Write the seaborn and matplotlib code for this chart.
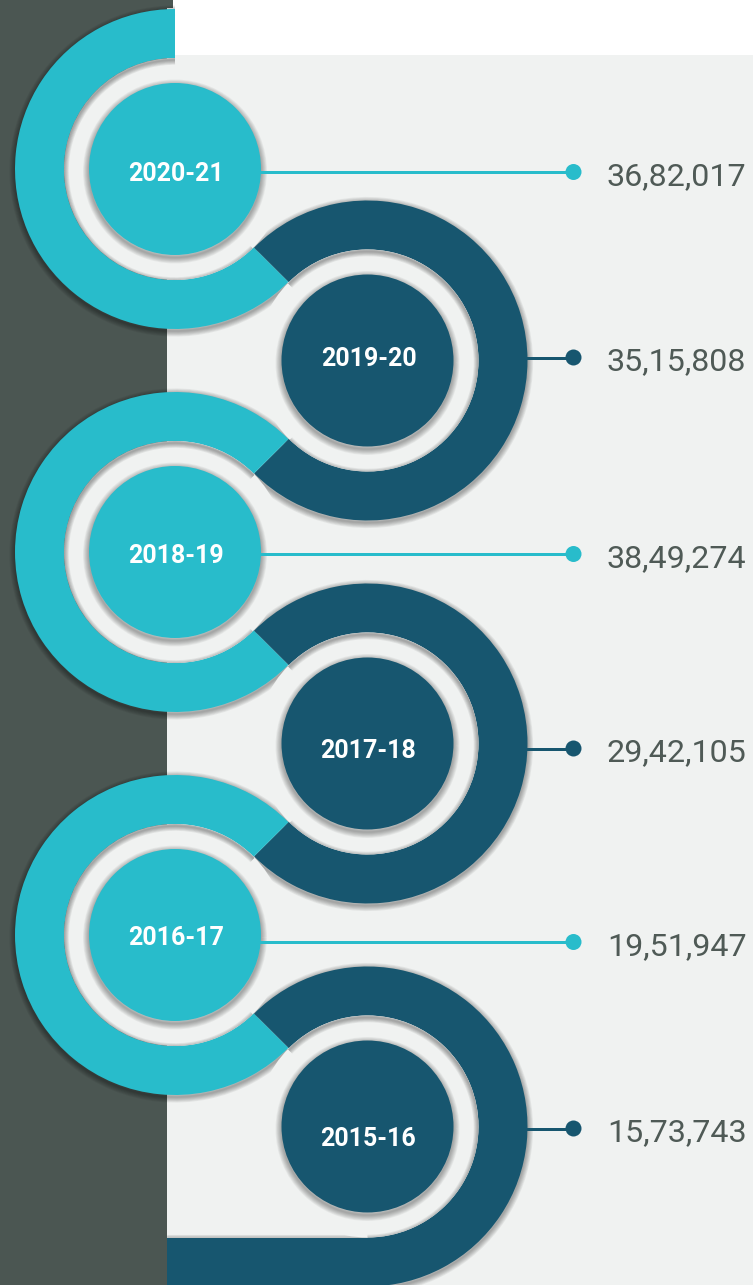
import math
import numpy as np
import pandas as pd
import matplotlib
matplotlib.use("Agg")
import matplotlib.pyplot as plt
from matplotlib.patches import Wedge, Circle, Rectangle, Arc
import seaborn as sns

# ---------------- data ----------------
years = ["2020-21", "2019-20", "2018-19", "2017-18", "2016-17", "2015-16"]
values = [3682017, 3515808, 3849274, 2942105, 1951947, 1573743]
kinds = ["cyan", "dark", "cyan", "dark", "cyan", "dark"]

# ---------------- style / layout ----------------
W, H = 753, 1285
CYAN = "#28bccb"
DARK = "#17566f"
PANEL = "#4b5652"
LIGHT = "#f0f2f1"
TEXT = "#4f5a56"
palette = {"cyan": CYAN, "dark": DARK}

CX_LEFT, CX_RIGHT = 175.0, 367.5
C0, STEP = 169.0, 191.5
R_OUT, R_IN, R_CORE = 160.0, 111.0, 86.0
PANEL_X = 167.0
DOT_X = 573.5
VALUE_X = 607
line_dy = [3, -3, 2, 5, 7, 2]
year_dy = [3, -3, 2, 5, 1, 10]
PX = 0.72  # points per pixel at dpi 100


def indian(n):
    s = str(n)
    last3, rest = s[-3:], s[:-3]
    parts = []
    while len(rest) > 2:
        parts.insert(0, rest[-2:])
        rest = rest[:-2]
    if rest:
        parts.insert(0, rest)
    return ",".join(parts + [last3])


sns.set_theme(style="white")
plt.rcParams["font.family"] = ["Roboto", "DejaVu Sans"]

fig = plt.figure(figsize=(W / 100, H / 100), dpi=100)
ax = fig.add_axes([0, 0, 1, 1])
ax.set_xlim(0, W)
ax.set_ylim(0, H)
ax.set_axis_off()

# backgrounds
ax.add_patch(Rectangle((0, 0), W, H, facecolor=LIGHT, edgecolor="none", zorder=0))
ax.add_patch(Rectangle((PANEL_X, H - 55), W - PANEL_X, 55, facecolor="white", edgecolor="none", zorder=0.1))
ax.add_patch(Rectangle((0, 0), PANEL_X, H, facecolor=PANEL, edgecolor="none", zorder=0.2))
ax.add_patch(Rectangle((PANEL_X - 1, H - 8), 7, 8, facecolor=PANEL, edgecolor="none", zorder=0.2))

ANG = math.degrees(math.atan2(STEP, CX_RIGHT - CX_LEFT))


def shadow_arc(cx, cy, r, t1, t2, z, clip=None, off=2.0, n=7, alpha=0.05, grow=1.6):
    for k in range(n):
        a = Arc((cx, cy - off), 2 * r, 2 * r, theta1=t1, theta2=t2,
                lw=(k + 1) * grow * PX, color="black", alpha=alpha, zorder=z,
                capstyle="butt")
        ax.add_patch(a)
        if clip is not None:
            a.set_clip_path(clip)


rows = []
for i, (yr, val, kind) in enumerate(zip(years, values, kinds)):
    dark = kind == "dark"
    cx = CX_RIGHT if dark else CX_LEFT
    cy = H - (C0 + i * STEP)
    if dark:
        t1 = -90.0 if i == len(years) - 1 else ANG - 180
        t2 = 180 - ANG
    else:
        t1 = 90.0 if i == 0 else ANG
        t2 = 360 - ANG
    col = palette[kind]

    # outer shadow + ring
    shadow_arc(cx, cy, R_OUT, t1, t2, z=1)
    ax.add_patch(Wedge((cx, cy), R_OUT, t1, t2, width=R_OUT - R_IN,
                       facecolor=col, edgecolor="none", zorder=2))
    if i == len(years) - 1:
        # band running left to the panel
        top = cy - R_IN
        for k in range(7):
            ax.plot([PANEL_X, cx], [top - 2, top - 2], color="black", alpha=0.05,
                    lw=(k + 1) * 1.6 * PX, zorder=1, solid_capstyle="butt")
        ax.add_patch(Rectangle((PANEL_X, cy - R_OUT - 2), cx - PANEL_X + 3, R_OUT - R_IN + 2,
                               facecolor=col, edgecolor="none", zorder=2.1))

    # gap disc
    gap = Circle((cx, cy), R_IN, facecolor=LIGHT, edgecolor="none", zorder=3)
    ax.add_patch(gap)
    shadow_arc(cx, cy, R_IN, t1, t2, z=3.5, clip=gap, off=2.0, n=6, alpha=0.06)
    shadow_arc(cx, cy, R_CORE, 0, 360, z=3.6, clip=gap, off=2.5, n=8, alpha=0.045,
               grow=1.5)

    ly = H - (C0 + i * STEP + line_dy[i])
    x_start = cx + (R_OUT - 1 if dark else R_CORE - 3)
    ax.plot([x_start, DOT_X], [ly, ly], color=col, lw=3 * PX, zorder=4,
            solid_capstyle="butt")

    ax.add_patch(Circle((cx, cy), R_CORE, facecolor=col, edgecolor="none", zorder=5))

    ty = H - (C0 + i * STEP + year_dy[i])
    ax.text(cx + 1, ty - 9, yr, color="white", fontsize=18, fontweight="bold",
            ha="center", va="baseline", zorder=6)
    ax.text(VALUE_X, ly - 13, indian(val), color=TEXT, fontsize=23.2,
            ha="left", va="baseline", zorder=6)
    rows.append({"year": yr, "kind": kind, "dot_x": DOT_X, "line_y": ly})

df = pd.DataFrame(rows)
sns.scatterplot(data=df, x="dot_x", y="line_y", hue="kind", palette=palette,
                s=(16 * PX) ** 2, linewidth=0, legend=False, zorder=7, ax=ax)
ax.set_xlim(0, W)
ax.set_ylim(0, H)
ax.set_axis_off()

fig.savefig("out.png", dpi=100, facecolor=LIGHT)
